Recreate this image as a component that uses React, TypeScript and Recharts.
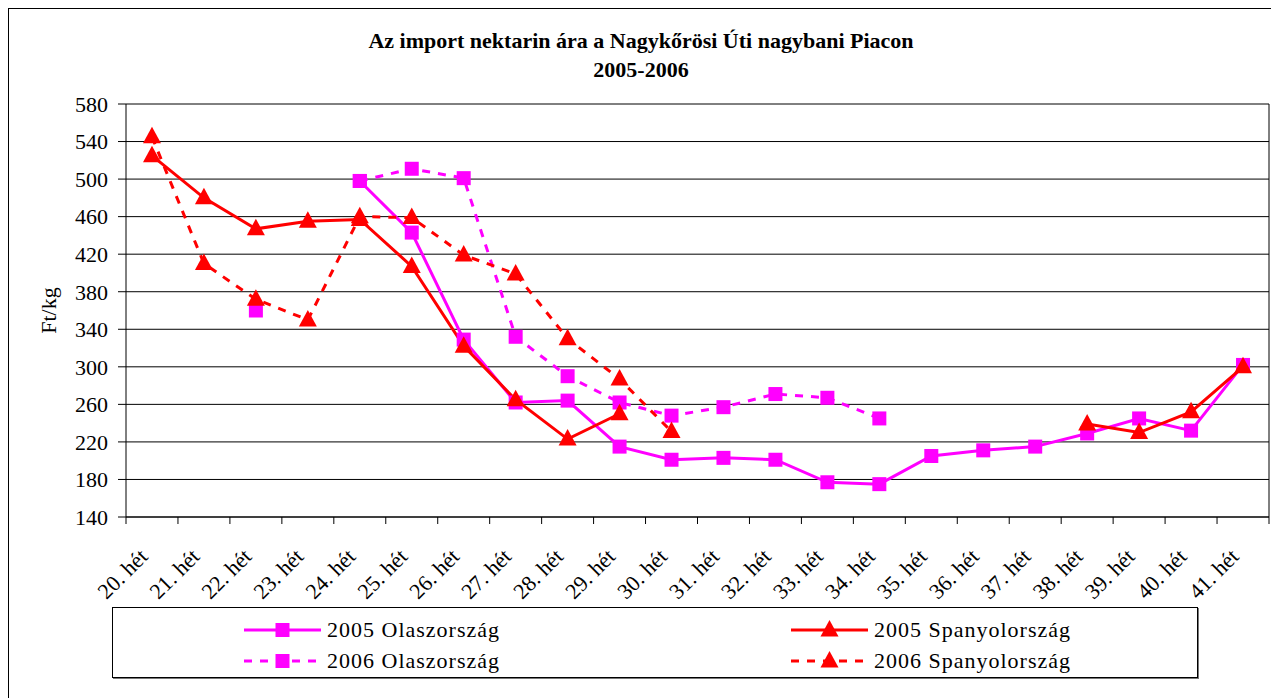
import {CartesianGrid, Label, Legend, Line, LineChart, ReferenceLine, XAxis, YAxis} from 'recharts'

const weeks = [
    '20. hét', '21. hét', '22. hét', '23. hét', '24. hét', '25. hét', '26. hét', '27. hét',
    '28. hét', '29. hét', '30. hét', '31. hét', '32. hét', '33. hét', '34. hét', '35. hét',
    '36. hét', '37. hét', '38. hét', '39. hét', '40. hét', '41. hét',
]

const olasz2005 = [null, null, null, null, 498, 443, 329, 262, 264, 215, 201, 203, 201, 177, 175, 205, 211, 215, 229, 245, 232, 302]
const spanyol2005 = [525, 480, 447, 455, 457, 407, 322, 265, 223, 250, null, null, null, null, null, null, null, null, 239, 230, 252, 300]
const olasz2006 = [null, null, 360, null, 498, 511, 501, 332, 290, 262, 248, 257, 271, 267, 245, null, null, null, null, null, null, null]
const spanyol2006 = [545, 410, 372, 350, 460, 459, 419, 399, 330, 287, 231, null, null, null, null, null, null, null, null, null, null, null]

const yTicks = [140, 180, 220, 260, 300, 340, 380, 420, 460, 500, 540, 580]

// legend grid: rows are years, columns are countries
const legendRows = ['2005', '2006']
const legendCols = ['Olaszország', 'Spanyolország']

const FONT = '"Liberation Serif", "Times New Roman", serif'
const MAGENTA = '#FF00FF'
const RED = '#FF0000'

// each week sits in the middle of its slot, slot edges get the tick marks
const data = weeks.map((week, i) => ({
    x: i + 0.5,
    week,
    olasz2005: olasz2005[i],
    olasz2006: olasz2006[i],
    spanyol2005: spanyol2005[i],
    spanyol2006: spanyol2006[i],
}))

const xTicks = weeks.flatMap((_, i) => [i, i + 0.5]).concat(weeks.length)

const SquareDot = (props: any) => {
    const {cx, cy, fill, index} = props
    if (cx == null || cy == null || props.value == null) return <g key={index}/>
    return <rect key={index} x={cx - 7} y={cy - 7} width={14} height={14} fill={fill}/>
}

const TriangleDot = (props: any) => {
    const {cx, cy, fill, index} = props
    if (cx == null || cy == null || props.value == null) return <g key={index}/>
    return <polygon key={index} points={`${cx},${cy - 10} ${cx - 9},${cy + 6.5} ${cx + 9},${cy + 6.5}`} fill={fill}/>
}

const WeekTick = ({x, y, payload}: any) => {
    const v = payload.value
    if (Number.isInteger(v)) {
        return <line x1={x} y1={y} x2={x} y2={y + 7} stroke="#000"/>
    }
    const tx = x - 3
    const ty = y + 41
    return (
        <text x={tx} y={ty} transform={`rotate(-45, ${tx}, ${ty})`} textAnchor="end"
              fontSize={22} fontFamily={FONT} fill="#000">
            {weeks[Math.floor(v)]}
        </text>
    )
}

const LegendBox = ({payload}: any) => (
    <div style={{
        position: 'relative', width: 1086, height: 71, boxSizing: 'border-box',
        border: '1px solid #000', boxShadow: '1px 1px 0 #777', background: '#fff',
    }}>
        {(payload || []).map((entry: any) => {
            const name = String(entry.value)
            const row = legendRows.findIndex(r => name.startsWith(r))
            const col = legendCols.findIndex(c => name.endsWith(c))
            const dash = entry.payload?.strokeDasharray
            return (
                <div key={name} style={{
                    position: 'absolute', left: col === 0 ? 131 : 678, top: row === 0 ? 7 : 38,
                    display: 'flex', alignItems: 'center', height: 30,
                }}>
                    <svg width={80} height={30}>
                        <line x1={0} y1={15} x2={77} y2={15} stroke={entry.color} strokeWidth={3} strokeDasharray={dash}/>
                        {entry.type === 'square'
                            ? <rect x={31.5} y={8} width={14} height={14} fill={entry.color}/>
                            : <polygon points="38.5,5 29.5,21.5 47.5,21.5" fill={entry.color}/>}
                    </svg>
                    <span style={{
                        fontFamily: FONT, fontSize: 22, color: '#000', marginLeft: 3,
                        whiteSpace: 'nowrap', letterSpacing: 1,
                    }}>
                        {name}
                    </span>
                </div>
            )
        })}
    </div>
)

export default function App() {
    return (
        <div style={{position: 'relative', width: 1270, height: 689, borderTop: '1px solid #000', borderLeft: '1px solid #000'}}>
            <div style={{
                position: 'absolute', left: 0, top: 17, width: 1264, textAlign: 'center',
                fontFamily: FONT, fontWeight: 'bold', fontSize: 22, lineHeight: '29px', color: '#000',
            }}>
                Az import nektarin ára a Nagykőrösi Úti nagybani Piacon<br/>2005-2006
            </div>
            <LineChart width={1270} height={689} data={data} margin={{top: 95, right: 10, bottom: 0, left: 0}}>
                <CartesianGrid vertical={false} stroke="#000"/>
                <XAxis type="number" dataKey="x" domain={[0, weeks.length]} ticks={xTicks} interval={0}
                       tick={<WeekTick/>} tickLine={false} tickSize={0} tickMargin={0} height={181}
                       axisLine={{stroke: '#000'}} allowDecimals/>
                <YAxis domain={[140, 580]} ticks={yTicks} interval={0} width={117} tickSize={8} tickMargin={10}
                       axisLine={{stroke: '#000'}} tickLine={{stroke: '#000'}}
                       tick={{fill: '#000', fontSize: 22, fontFamily: FONT}}>
                    <Label content={({viewBox}: any) => {
                        const cx = viewBox.x + 39
                        const cy = viewBox.y + viewBox.height / 2
                        return (
                            <text x={cx} y={cy} transform={`rotate(-90, ${cx}, ${cy})`} textAnchor="middle"
                                  dominantBaseline="central" fontSize={22} fontFamily={FONT} fill="#000">
                                Ft/kg
                            </text>
                        )
                    }}/>
                </YAxis>
                <ReferenceLine x={weeks.length} stroke="#000"/>
                <Line dataKey="olasz2005" name="2005 Olaszország" stroke={MAGENTA} fill={MAGENTA} strokeWidth={3}
                      dot={<SquareDot/>} activeDot={false} legendType="square" isAnimationActive={false}/>
                <Line dataKey="olasz2006" name="2006 Olaszország" stroke={MAGENTA} fill={MAGENTA} strokeWidth={3}
                      strokeDasharray="8 8" dot={<SquareDot/>} activeDot={false} legendType="square" isAnimationActive={false}/>
                <Line dataKey="spanyol2005" name="2005 Spanyolország" stroke={RED} fill={RED} strokeWidth={3}
                      dot={<TriangleDot/>} activeDot={false} legendType="triangle" isAnimationActive={false}/>
                <Line dataKey="spanyol2006" name="2006 Spanyolország" stroke={RED} fill={RED} strokeWidth={3}
                      strokeDasharray="8 8" dot={<TriangleDot/>} activeDot={false} legendType="triangle" isAnimationActive={false}/>
                <Legend layout="vertical" align="center" verticalAlign="middle" content={<LegendBox/>}
                        wrapperStyle={{left: 103, top: 598, width: 1086, height: 71}}/>
            </LineChart>
        </div>
    )
}
